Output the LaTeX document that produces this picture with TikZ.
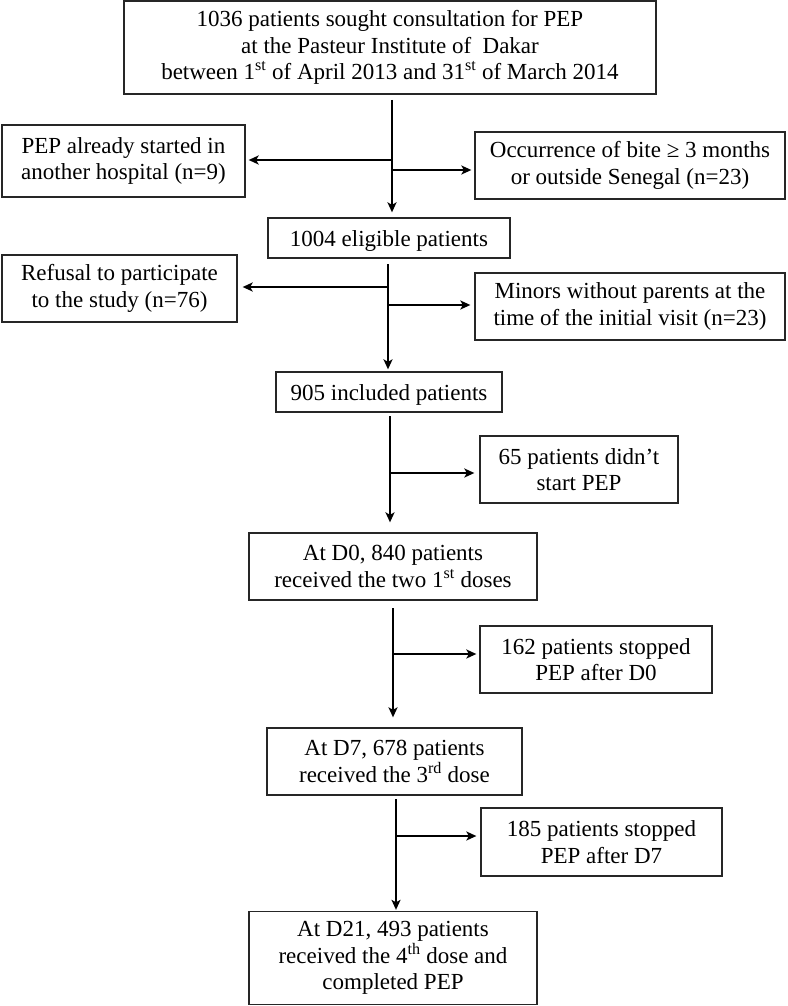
\documentclass[tikz,border=0pt]{standalone}
\usepackage{fontspec}
\setmainfont{Liberation Serif}
\usetikzlibrary{arrows.meta}
\tikzset{
  box/.style={draw=black!85, line width=1.3pt, inner sep=0pt, align=center,
    font=\fontsize{23pt}{26.5pt}\selectfont,
    execute at begin node={\rule{0pt}{22pt}}},
  arr/.style={line width=2.6pt, -{Stealth[length=10pt,width=9pt,inset=2.5pt]}}
}
\begin{document}
\begin{tikzpicture}[x=1pt,y=-1pt]
\useasboundingbox (0,0) rectangle (787,1006);
% boxes
\node[box, minimum width=532pt, minimum height=93pt] (top) at (390,47.5)
  {1036 patients sought consultation for PEP\\at the Pasteur Institute of\ \ Dakar\\between 1\textsuperscript{st} of April 2013 and 31\textsuperscript{st} of March 2014};
\node[box, minimum width=243pt, minimum height=72pt] (left1) at (123.5,161)
  {PEP already started in\\another hospital (n=9)};
\node[box, minimum width=310pt, minimum height=67pt] (right1) at (630,165.5)
  {Occurrence of bite ≥ 3 months\\or outside Senegal (n=23)};
\node[box, minimum width=242pt, minimum height=40pt] (elig) at (389,238)
  {1004 eligible patients};
\node[box, minimum width=235pt, minimum height=67pt] (left2) at (119.5,288.5)
  {Refusal to participate\\to the study (n=76)};
\node[box, minimum width=310pt, minimum height=67pt] (right2) at (630,306.5)
  {Minors without parents at the\\time of the initial visit (n=23)};
\node[box, minimum width=226pt, minimum height=40pt] (incl) at (389,392)
  {905 included patients};
\node[box, minimum width=198pt, minimum height=67pt] (nostart) at (579,469.5)
  {65 patients didn’t\\start PEP};
\node[box, minimum width=288pt, minimum height=67pt] (dzero) at (393,566.5)
  {At D0, 840 patients\\received the two 1\textsuperscript{st} doses};
\node[box, minimum width=232pt, minimum height=67pt] (stopzero) at (596,659.5)
  {162 patients stopped\\PEP after D0};
\node[box, minimum width=255pt, minimum height=67pt] (dseven) at (394.5,761.5)
  {At D7, 678 patients\\received the 3\textsuperscript{rd} dose};
\node[box, minimum width=241pt, minimum height=68pt] (stopseven) at (601.5,842)
  {185 patients stopped\\PEP after D7};
\node[box, minimum width=288pt, minimum height=93pt] (dtw) at (393,958)
  {At D21, 493 patients\\received the 4\textsuperscript{th} dose and\\completed PEP};
% main flow
\coordinate (s1) at (392,100);
\coordinate (b1l) at (392,160);
\coordinate (b1r) at (392,170);
\draw[arr, shorten >=5pt] (s1) -- (s1 |- elig.north);
\draw[arr, shorten <=1.3pt, shorten >=3pt] (b1l) -- (b1l -| left1.east);
\draw[arr, shorten >=3pt] (b1r) -- (b1r -| right1.west);

\coordinate (s2) at (388,264);
\coordinate (b2l) at (388,287);
\coordinate (b2r) at (388,305);
\draw[arr, shorten >=2pt] (s2) -- (s2 |- incl.north);
\draw[arr, shorten <=1.3pt, shorten >=5pt] (b2l) -- (b2l -| left2.east);
\draw[arr, shorten >=4pt] (b2r) -- (b2r -| right2.west);

\coordinate (s3) at (390,416);
\coordinate (b3) at (390,473);
\draw[arr, shorten >=10pt] (s3) -- (s3 |- dzero.north);
\draw[arr, shorten >=5pt] (b3) -- (b3 -| nostart.west);

\coordinate (s4) at (393,608);
\coordinate (b4) at (393,654);
\draw[arr, shorten >=10pt] (s4) -- (s4 |- dseven.north);
\draw[arr, shorten >=3pt] (b4) -- (b4 -| stopzero.west);

\coordinate (s5) at (396,799);
\coordinate (b5) at (396,836);
\draw[arr, shorten >=1pt] (s5) -- (s5 |- dtw.north);
\draw[arr, shorten >=4pt] (b5) -- (b5 -| stopseven.west);
\end{tikzpicture}
\end{document}
